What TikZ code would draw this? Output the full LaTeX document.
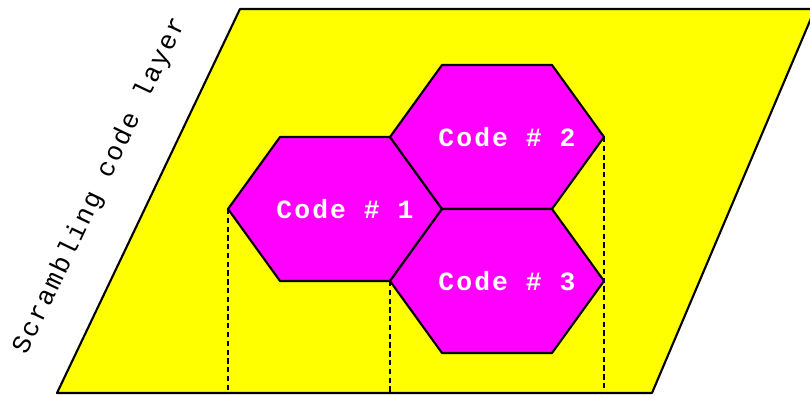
\documentclass[tikz,border=0pt]{standalone}
\usepackage{fontspec}
\newfontfamily\layermono[LetterSpace=8]{Liberation Mono}
\usetikzlibrary{calc}
\definecolor{Ylay}{RGB}{255,255,0}
\definecolor{Mcell}{RGB}{255,0,255}
\tikzset{
  layer/.style   = {draw=black, fill=Ylay, line width=1.2pt, line join=round},
  cell/.style    = {draw=black, fill=Mcell, line width=1.2pt, line join=round},
  celltxt/.style = {text=white, inner sep=0pt,
                    font=\layermono\bfseries\fontsize{15}{17}\selectfont},
  laytxt/.style  = {rotate=64.5, inner sep=0pt,
                    font=\layermono\fontsize{15}{17}\selectfont},
  drop/.style    = {line width=1pt, dash pattern=on 3pt off 2pt},
}
% hexagonal cell: name, centre, label
\newcommand{\hexcell}[3]{%
  \coordinate (#1) at (#2);
  \draw[cell] ($(#1)+(-2.14,0)$) coordinate (#1w)
    -- ++(1.04,1.44) -- ++(2.2,0) -- ++(1.04,-1.44) coordinate (#1e)
    -- ++(-1.04,-1.44) -- ++(-2.2,0) -- cycle;
  \node[celltxt] (#1txt) at ($(#1)+(0.2,0)$) {#3};
}

\begin{document}
\begin{tikzpicture}[x=1cm, y=1cm]
\useasboundingbox (0,0) rectangle (16.2,7.92);

%% layer
\draw[layer] (1.14,0.06) -- (4.8,7.74) -- (16.3,7.74) -- (13.04,0.06) -- cycle;
\coordinate (base) at (0,0.06);
\node[laytxt] (laylbl) at (2.0,4.2) {Scrambling code layer};

%% cells
\hexcell{c1}{6.7,3.74}{Code \# 1}
\hexcell{c2}{9.94,5.18}{Code \# 2}
\hexcell{c3}{9.94,2.30}{Code \# 3}

%% projections
\draw[drop] (c1w) -- (c1w |- base);
\draw[drop] (c3w) -- (c3w |- base);
\draw[drop] (c2e) -- (c2e |- base);

\end{tikzpicture}
\end{document}
